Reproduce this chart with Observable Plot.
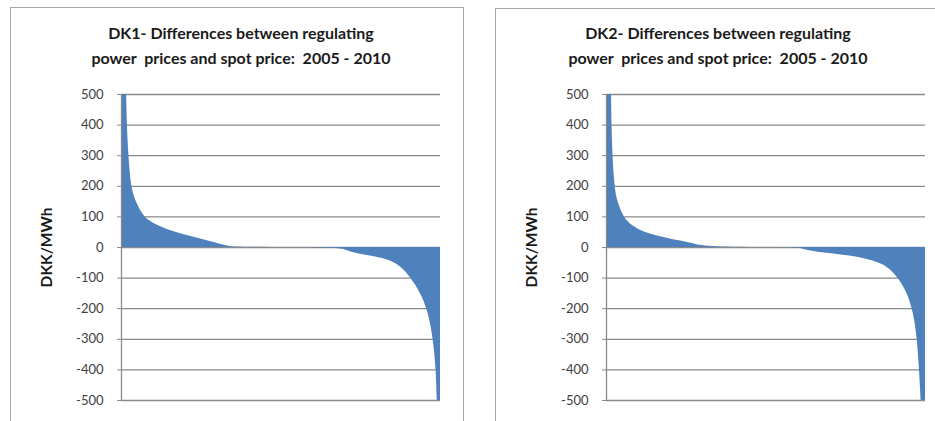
<!DOCTYPE html>
<html><head><meta charset="utf-8">
<script src="https://cdn.jsdelivr.net/npm/d3@7"></script>
<script src="https://cdn.jsdelivr.net/npm/@observablehq/plot@0.6"></script>
<style>
body{margin:0;background:#fff;font-family:Lato, "Open Sans", sans-serif;}
#wrap{position:relative;width:935px;height:421px;overflow:hidden;background:#fff;}
.box{position:absolute;border:1px solid #a6a6a6;}
.title{position:absolute;font-weight:bold;font-size:16px;color:#1a1a1a;text-align:center;white-space:pre;line-height:25px;transform:translateX(-50%);}
.panel{position:absolute;top:0;}
</style></head><body>
<div id="wrap"></div>
<script>
const yTicks = [-500, -400, -300, -200, -100, 0, 100, 200, 300, 400, 500];
const yLabel = "DKK/MWh";

const dk1Title = ["DK1- Differences between regulating", "power  prices and spot price:  2005 - 2010"];
const dk1Share = [0, 0.012, 0.016, 0.018, 0.023, 0.027, 0.031, 0.044, 0.07, 0.096, 0.138, 0.2, 0.279, 0.331, 0.35, 0.681, 0.708, 0.724, 0.78, 0.833, 0.875, 0.908, 0.9375, 0.9625, 0.978, 0.987, 0.99, 0.995, 1.0];
const dk1Diff  = [800, 700, 510, 400, 300, 250, 200, 150, 100, 80, 60, 40, 20, 5, 0, 0, -11, -17, -28, -38, -60, -100, -148, -210, -300, -400, -500, -700, -800];

const dk2Title = ["DK2- Differences between regulating", "power  prices and spot price:  2005 - 2010"];
const dk2Share = [0, 0.012, 0.016, 0.017, 0.02, 0.026, 0.034, 0.054, 0.07, 0.096, 0.143, 0.237, 0.279, 0.331, 0.603, 0.609, 0.672, 0.766, 0.8375, 0.881, 0.916, 0.944, 0.9625, 0.975, 0.981, 0.987, 0.993, 1.0];
const dk2Diff  = [800, 700, 510, 400, 300, 200, 150, 100, 80, 60, 40, 20, 10, 0, 0, -5, -18, -27, -43, -62, -100, -150, -210, -300, -400, -500, -700, -800];

const wrap = document.getElementById("wrap");

function drawPanel(title, share, diff, boxLeft, boxTop, svgLeft, svgWidth, marginRight, titleX) {
  const box = document.createElement("div");
  box.className = "box";
  Object.assign(box.style, {left: boxLeft + "px", top: boxTop + "px", width: "452px", height: "440px"});
  wrap.appendChild(box);

  const t = document.createElement("div");
  t.className = "title";
  t.style.left = titleX + "px";
  t.style.top = "20px";
  t.textContent = title.join("\n");
  wrap.appendChild(t);

  const data = share.map((s, i) => ({share: s, diff: diff[i]}));
  const chart = Plot.plot({
    width: svgWidth,
    height: 421,
    marginLeft: 121,
    marginRight: marginRight,
    marginTop: 94,
    marginBottom: 21,
    style: {background: "transparent", fontFamily: "Lato, 'Open Sans', sans-serif", fontSize: "13px", color: "#404040", overflow: "visible"},
    x: {domain: [0, 1], axis: null},
    y: {domain: [-500, 500]},
    marks: [
      Plot.ruleY(yTicks, {stroke: "#8a8a8a", strokeWidth: 1.3}),
      Plot.areaY(data, {x: "share", y: "diff", fill: "#4F81BD", curve: "basis", clip: true}),
      Plot.ruleX([0], {stroke: "#8a8a8a", strokeWidth: 1.3}),
      Plot.axisY(yTicks, {tickSize: 4, tickPadding: 14, stroke: "#8a8a8a", fill: "#404040", label: null, tickFormat: d => String(d)}),
      Plot.text([yLabel], {frameAnchor: "left", dx: -74, rotate: -90, textAnchor: "middle", fontWeight: "bold", fontSize: 15.5, fill: "#1a1a1a"})
    ]
  });
  chart.classList.add("panel");
  chart.style.left = svgLeft + "px";
  chart.style.maxWidth = "none";
  wrap.appendChild(chart);
}

drawPanel(dk1Title, dk1Share, dk1Diff, 10, 7, 0, 465, 25, 241);
drawPanel(dk2Title, dk2Share, dk2Diff, 495, 8, 485, 450, 10, 718);
</script>
</body></html>
